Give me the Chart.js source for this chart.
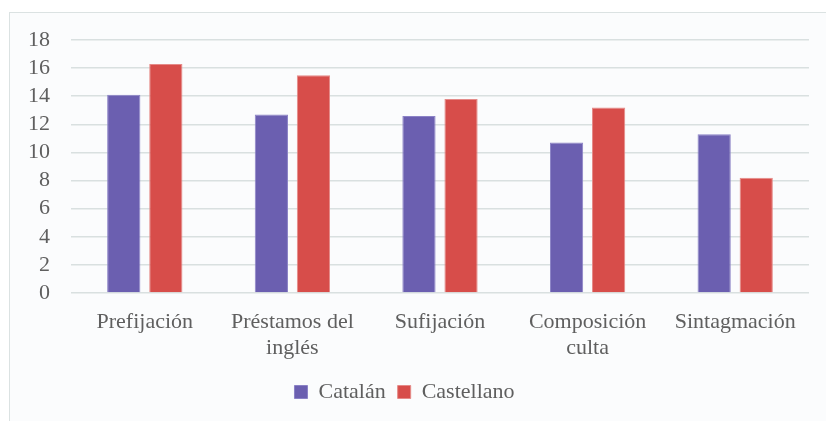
<!DOCTYPE html>
<html>
<head>
<meta charset="utf-8">
<script src="https://cdn.jsdelivr.net/npm/chart.js@4/dist/chart.umd.min.js"></script>
<style>
  html, body { margin: 0; padding: 0; background: #ffffff; overflow: hidden; }
  #frame {
    position: absolute; left: 9px; top: 12px; width: 840px; height: 430px;
    background: #fbfcfd; border-left: 1px solid #dbe2e2; border-top: 1px solid #dbe2e2;
  }
  #wrap { position: absolute; left: 0; top: 0; width: 826px; height: 421px; }
</style>
</head>
<body>
<div id="frame"></div>
<div id="wrap"><canvas id="chart"></canvas></div>
<script>
"use strict";

// categories and series
const categories = ['Prefijación', ['Préstamos del', 'inglés'], 'Sufijación', ['Composición', 'culta'], 'Sintagmación'];
const catalan = [14.1, 12.7, 12.6, 10.7, 11.3];
const castellano = [16.3, 15.5, 13.8, 13.2, 8.2];
const yTicks = [0, 2, 4, 6, 8, 10, 12, 14, 16, 18];

const textColor = '#5f5f5f';
const serif = 'Liberation Serif';

new Chart(document.getElementById('chart'), {
    type: 'bar',
    data: {
        labels: categories,
        datasets: [{
            label: 'Catalán',
            data: catalan,
            backgroundColor: '#6b5fb0',
            borderColor: '#8b82c6',
            borderWidth: 1,
        }, {
            label: 'Castellano',
            data: castellano,
            backgroundColor: '#d74d4a',
            borderColor: '#e58a88',
            borderWidth: 1,
        }]
    },
    options: {
        responsive: true,
        maintainAspectRatio: false,
        animation: false,
        categoryPercentage: 0.57,
        barPercentage: 0.79,
        layout: { padding: { top: 40, left: 0, right: 17, bottom: 8 } },
        plugins: {
            tooltip: { enabled: false },
            legend: {
                position: 'bottom',
                labels: {
                    color: textColor,
                    font: { family: serif, size: 22 },
                    boxWidth: 13,
                    boxHeight: 13,
                    padding: 12,
                },
            },
        },
        scales: {
            x: {
                grid: { display: false },
                border: { display: false },
                ticks: {
                    color: textColor,
                    font: { family: serif, size: 22, lineHeight: 1.2 },
                    maxRotation: 0,
                    autoSkip: false,
                    padding: 8,
                },
                afterFit: (s) => { s.height = 76; },
            },
            y: {
                min: 0,
                max: 18,
                afterBuildTicks: (s) => { s.ticks = yTicks.map((v) => ({ value: v })); },
                grid: { color: '#d9e0e0', lineWidth: 1.5, drawTicks: false },
                border: { display: false },
                ticks: {
                    color: textColor,
                    font: { family: serif, size: 22 },
                    padding: 21,
                    autoSkip: false,
                },
                afterFit: (s) => { s.width = 71; },
            },
        },
    },
});
</script>
</body>
</html>
